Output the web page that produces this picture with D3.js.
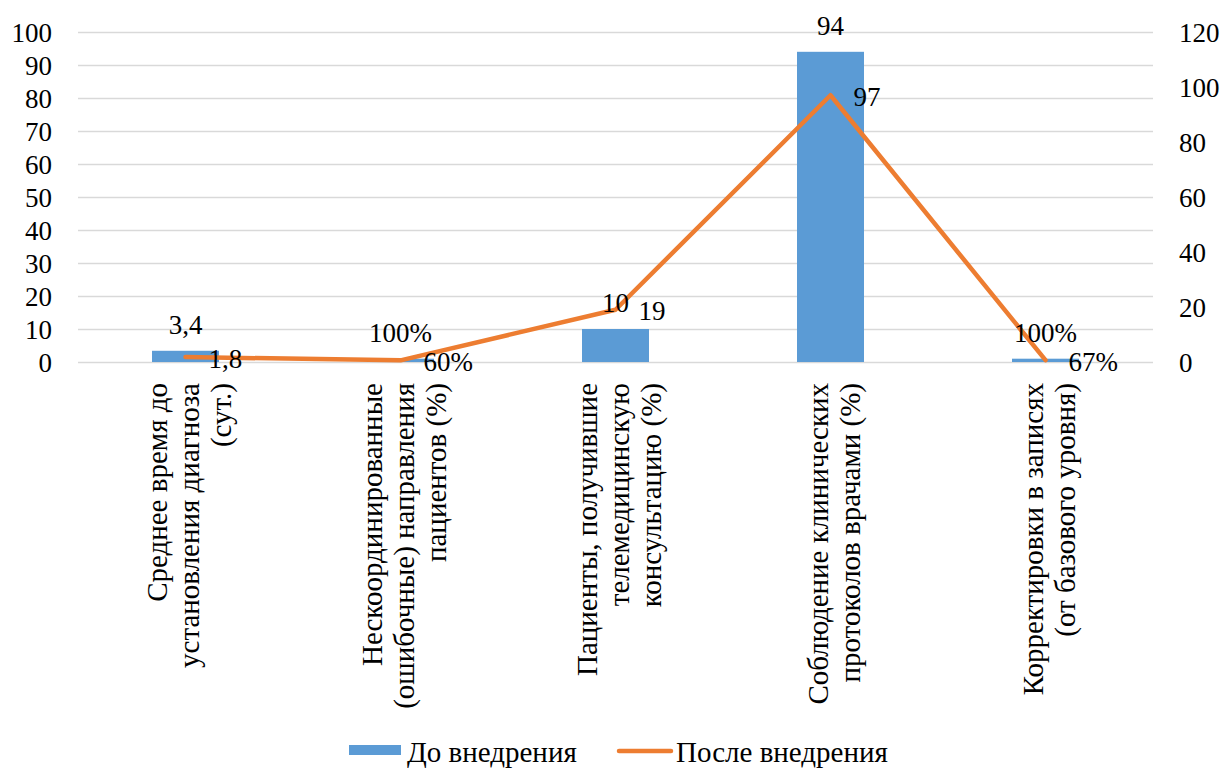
<!DOCTYPE html>
<html>
<head>
<meta charset="utf-8">
<script src="https://cdn.jsdelivr.net/npm/d3@7"></script>
<style>
  html, body { margin: 0; padding: 0; background: #fff; }
  svg { display: block; }
  svg text { font-family: "Liberation Serif", "Times New Roman", Tinos, "DejaVu Serif", serif; }
</style>
</head>
<body>
<svg id="chart" width="1225" height="769"></svg>
<script>
// Indicators compared before and after the system was introduced
const categories = [
  ["Среднее время до", "установления диагноза", "(сут.)"],
  ["Нескоординированные", "(ошибочные) направления", "пациентов (%)"],
  ["Пациенты, получившие", "телемедицинскую", "консультацию (%)"],
  ["Соблюдение клинических", "протоколов врачами (%)"],
  ["Корректировки в записях", "(от базового уровня)"]
];
const beforeValues = [3.4, 1, 10, 94, 1];        // left axis
const afterValues = [1.8, 0.6, 19, 97, 0.67];    // right axis
// how each value is written: plain number or share shown as percent
const beforeFormats = ["num", "pct", "num", "num", "pct"];
const afterFormats = ["num", "pct", "num", "num", "pct"];
const leftTicks = [0, 10, 20, 30, 40, 50, 60, 70, 80, 90, 100];
const rightTicks = [0, 20, 40, 60, 80, 100, 120];
const seriesNames = ["До внедрения", "После внедрения"];

const BLUE = "#5B9BD5", ORANGE = "#ED7D31", GRID = "#d9d9d9";
const FS = 27;      // numbers
const FS_CAT = 29;  // category and legend text

const fmt = (v, kind) => kind === "pct"
  ? Math.round(v * 100) + "%"
  : String(v).replace(".", ",");

const svg = d3.select("#chart");
const plot = { left: 78, right: 1153, top: 32, bottom: 362 };

const x = d3.scaleBand()
  .domain(d3.range(categories.length))
  .range([plot.left, plot.right])
  .paddingInner(0).paddingOuter(0);
const yL = d3.scaleLinear().domain([0, 100]).range([plot.bottom, plot.top]);
const yR = d3.scaleLinear().domain([0, 120]).range([plot.bottom, plot.top]);

// horizontal gridlines
svg.append("g")
  .attr("transform", `translate(${plot.left},0)`)
  .call(d3.axisLeft(yL).tickValues(leftTicks).tickSize(-(plot.right - plot.left)).tickFormat(""))
  .call(g => g.select(".domain").remove())
  .call(g => g.selectAll("line").attr("stroke", GRID).attr("stroke-width", 1.3));

// left axis labels
svg.append("g")
  .attr("transform", `translate(${plot.left - 26},0)`)
  .call(d3.axisLeft(yL).tickValues(leftTicks).tickSize(0).tickPadding(0))
  .call(g => g.attr("font-family", null).attr("font-size", null))
  .call(g => g.select(".domain").remove())
  .call(g => g.selectAll("text")
    .attr("font-size", FS)
    .attr("fill", "#000").attr("dy", "0.35em"));

// right axis labels
svg.append("g")
  .attr("transform", `translate(${plot.right + 26},0)`)
  .call(d3.axisRight(yR).tickValues(rightTicks).tickSize(0).tickPadding(0))
  .call(g => g.attr("font-family", null).attr("font-size", null))
  .call(g => g.select(".domain").remove())
  .call(g => g.selectAll("text")
    .attr("font-size", FS)
    .attr("fill", "#000").attr("dy", "0.35em"));

// bars
const barW = 67;
const cx = i => x(i) + x.bandwidth() / 2;
svg.append("g").selectAll("rect")
  .data(beforeValues)
  .join("rect")
  .attr("x", (d, i) => cx(i) - barW / 2)
  .attr("width", barW)
  .attr("y", d => yL(d))
  .attr("height", d => yL(0) - yL(d))
  .attr("fill", BLUE);

// line
const line = d3.line()
  .x((d, i) => cx(i))
  .y(d => yR(d));
svg.append("path")
  .datum(afterValues)
  .attr("d", line)
  .attr("fill", "none")
  .attr("stroke", ORANGE)
  .attr("stroke-width", 4.5)
  .attr("stroke-linejoin", "round")
  .attr("stroke-linecap", "round");

// bar value labels
svg.append("g").selectAll("text")
  .data(beforeValues)
  .join("text")
  .attr("x", (d, i) => cx(i))
  .attr("y", d => yL(d) - 17)
  .attr("text-anchor", "middle")
  .attr("font-size", FS)
  .text((d, i) => fmt(d, beforeFormats[i]));

// line value labels
svg.append("g").selectAll("text")
  .data(afterValues)
  .join("text")
  .attr("x", (d, i) => cx(i) + 23)
  .attr("y", d => yR(d) + 1)
  .attr("dy", "0.35em")
  .attr("font-size", FS)
  .text((d, i) => fmt(d, afterFormats[i]));

// category labels, rotated
const lineGap = 32;
const catG = svg.append("g");
categories.forEach((lines, i) => {
  lines.forEach((t, j) => {
    const px = cx(i) + (j - (lines.length - 1) / 2) * lineGap + 13;
    catG.append("text")
      .attr("transform", `translate(${px},383) rotate(-90)`)
      .attr("text-anchor", "end")
      .attr("font-size", FS_CAT)
      .text(t);
  });
});

// legend
const lg = svg.append("g");
lg.append("rect").attr("x", 349).attr("y", 745).attr("width", 52).attr("height", 10).attr("fill", BLUE);
lg.append("text").attr("x", 407).attr("y", 762).attr("font-size", FS_CAT).text(seriesNames[0]);
lg.append("line").attr("x1", 619).attr("x2", 671).attr("y1", 751).attr("y2", 751)
  .attr("stroke", ORANGE).attr("stroke-width", 4.5).attr("stroke-linecap", "round");
lg.append("text").attr("x", 676).attr("y", 762).attr("font-size", FS_CAT).text(seriesNames[1]);
</script>
</body>
</html>
